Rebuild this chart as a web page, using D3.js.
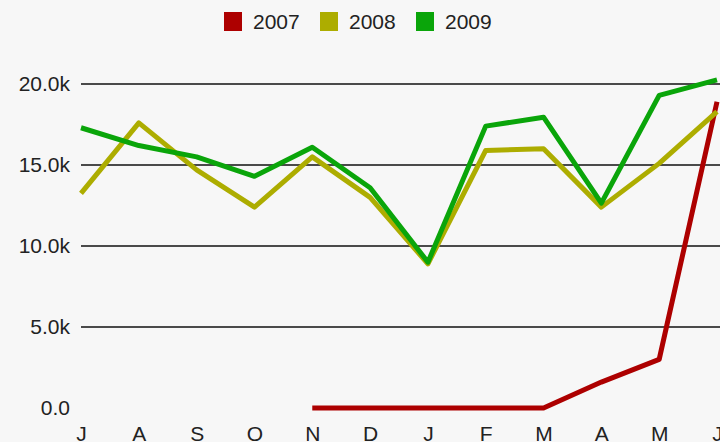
<!DOCTYPE html>
<html>
<head>
<meta charset="utf-8">
<script src="https://cdn.jsdelivr.net/npm/d3@7"></script>
<style>
  body { margin: 0; background: #f7f7f7; }
  text { font-family: "Liberation Sans", Arial, sans-serif; fill: #222; }
</style>
</head>
<body>
<div id="chart"></div>
<script>
// data (fiscal year months, July..June)
var months = ["J", "A", "S", "O", "N", "D", "J", "F", "M", "A", "M", "J"];
var seriesNames = ["2007", "2008", "2009"];
var values2007 = [null, null, null, null, 0, 0, 0, 0, 0, 1600, 3000, 18900];
var values2008 = [13250, 17600, 14700, 12400, 15500, 13000, 8900, 15900, 16000, 12400, 15100, 18300];
var values2009 = [17300, 16200, 15500, 14300, 16100, 13600, 9000, 17400, 17950, 12650, 19300, 20250];
var yTicks = [0, 5000, 10000, 15000, 20000];
var colors = ["#ad0000", "#adad00", "#0aa50a"];

// svg dimensions
var svgWidth = 720;
var svgHeight = 442;

var svg = d3.select("#chart")
  .append("svg")
  .attr("width", svgWidth)
  .attr("height", svgHeight)
  .style("display", "block");

svg.append("rect")
  .attr("width", svgWidth)
  .attr("height", svgHeight)
  .attr("fill", "#f7f7f7");

// scales
var xScale = d3.scalePoint()
  .domain(d3.range(months.length))
  .range([81, 717]);
var yScale = d3.scaleLinear()
  .domain([0, 20000])
  .range([408, 84]);

// gridlines (none at zero)
svg.append("g")
  .selectAll("line")
  .data(yTicks.filter(d => d > 0))
  .enter()
  .append("line")
  .attr("x1", 81)
  .attr("x2", svgWidth)
  .attr("y1", d => yScale(d))
  .attr("y2", d => yScale(d))
  .attr("stroke", "#111")
  .attr("stroke-width", 1.6);

// y axis labels
var yAxis = d3.axisLeft(yScale)
  .tickValues(yTicks)
  .tickSize(0)
  .tickPadding(0)
  .tickFormat(d => d === 0 ? "0.0" : (d / 1000).toFixed(1) + "k");
var yAxisG = svg.append("g")
  .attr("transform", "translate(70, 0)")
  .call(yAxis);
yAxisG.select(".domain").remove();
yAxisG.selectAll("text")
  .attr("font-size", 21)
  .attr("font-family", "'Liberation Sans', Arial, sans-serif")
  .attr("fill", "#222");

// x axis labels
var xAxis = d3.axisBottom(xScale)
  .tickSize(0)
  .tickPadding(0)
  .tickFormat(i => months[i]);
var xAxisG = svg.append("g")
  .attr("transform", "translate(0, 425)")
  .call(xAxis);
xAxisG.select(".domain").remove();
xAxisG.selectAll("text")
  .attr("font-size", 21)
  .attr("dy", "0.75em")
  .attr("font-family", "'Liberation Sans', Arial, sans-serif")
  .attr("fill", "#222");

// lines
var allSeries = [values2007, values2008, values2009];
var line = d3.line()
  .defined(d => d !== null)
  .x((d, i) => xScale(i))
  .y(d => yScale(d));

svg.append("g")
  .selectAll("path")
  .data(allSeries)
  .enter()
  .append("path")
  .attr("d", d => line(d))
  .attr("fill", "none")
  .attr("stroke", (d, i) => colors[i])
  .attr("stroke-width", 5)
  .attr("stroke-linejoin", "round");

// legend
var legendX = [224, 320, 416];
var legend = svg.append("g")
  .selectAll("g")
  .data(seriesNames)
  .enter()
  .append("g")
  .attr("transform", (d, i) => `translate(${legendX[i]}, 12)`);
legend.append("rect")
  .attr("width", 18)
  .attr("height", 19)
  .attr("fill", (d, i) => colors[i]);
legend.append("text")
  .attr("x", 29)
  .attr("y", 10)
  .attr("dy", "0.35em")
  .attr("font-size", 21)
  .text(d => d);
</script>
</body>
</html>
